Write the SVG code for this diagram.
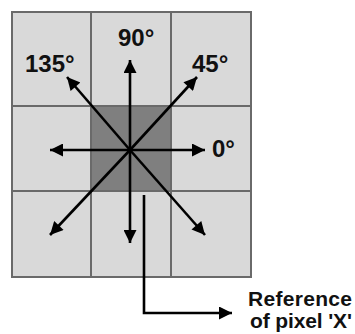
<svg xmlns="http://www.w3.org/2000/svg" width="355" height="334" viewBox="0 0 355 334">
<style>
.cell{fill:#d9d9d9;stroke:#6a6a6a;stroke-width:2}
.dark{fill:#7f7f7f;stroke:#6a6a6a;stroke-width:2}
.arr{stroke:#000;stroke-width:2.6;fill:none;marker-end:url(#ah)}
.lbl{font-family:"Liberation Sans",Arial,sans-serif;font-weight:bold;font-size:24px;fill:#111}
.ref{font-family:"Liberation Sans",Arial,sans-serif;font-weight:bold;font-size:21px;fill:#111;text-anchor:middle}
</style>
<defs>
<marker id="ah" viewBox="0 0 10 10" refX="10" refY="5" markerUnits="userSpaceOnUse" markerWidth="15" markerHeight="13" orient="auto">
<path d="M0,0 L10,5 L0,10 Z" fill="#000"/>
</marker>
</defs>
<rect width="355" height="334" fill="#fff"/>
<g id="grid">
<rect class="cell" x="12" y="12" width="79" height="94"/>
<rect class="cell" x="91" y="12" width="80" height="94"/>
<rect class="cell" x="171" y="12" width="80" height="94"/>
<rect class="cell" x="12" y="106" width="79" height="85"/>
<rect class="dark" x="91" y="106" width="80" height="85"/>
<rect class="cell" x="171" y="106" width="80" height="85"/>
<rect class="cell" x="12" y="191" width="79" height="86"/>
<rect class="cell" x="91" y="191" width="80" height="86"/>
<rect class="cell" x="171" y="191" width="80" height="86"/>
</g>
<g id="connectors">
<line class="arr" x1="130" y1="150" x2="130" y2="60"/>
<line class="arr" x1="130" y1="150" x2="205" y2="150"/>
<line class="arr" x1="130" y1="150" x2="50" y2="150"/>
<line class="arr" x1="130" y1="150" x2="130" y2="243"/>
<line class="arr" x1="130" y1="150" x2="67" y2="77"/>
<line class="arr" x1="130" y1="150" x2="197" y2="77"/>
<line class="arr" x1="130" y1="150" x2="50" y2="235"/>
<line class="arr" x1="130" y1="150" x2="205" y2="235"/>
<path class="arr" d="M144,195 L144,313 L232,313"/>
</g>
<g id="labels">
<text class="lbl" x="118" y="46">90°</text>
<text class="lbl" x="25" y="72">135°</text>
<text class="lbl" x="192" y="72">45°</text>
<text class="lbl" x="212" y="157">0°</text>
</g>
<g id="reference">
<text class="ref" x="300" y="306" textLength="104">Reference</text>
<text class="ref" x="301" y="328" textLength="102">of pixel 'X'</text>
</g>
</svg>
